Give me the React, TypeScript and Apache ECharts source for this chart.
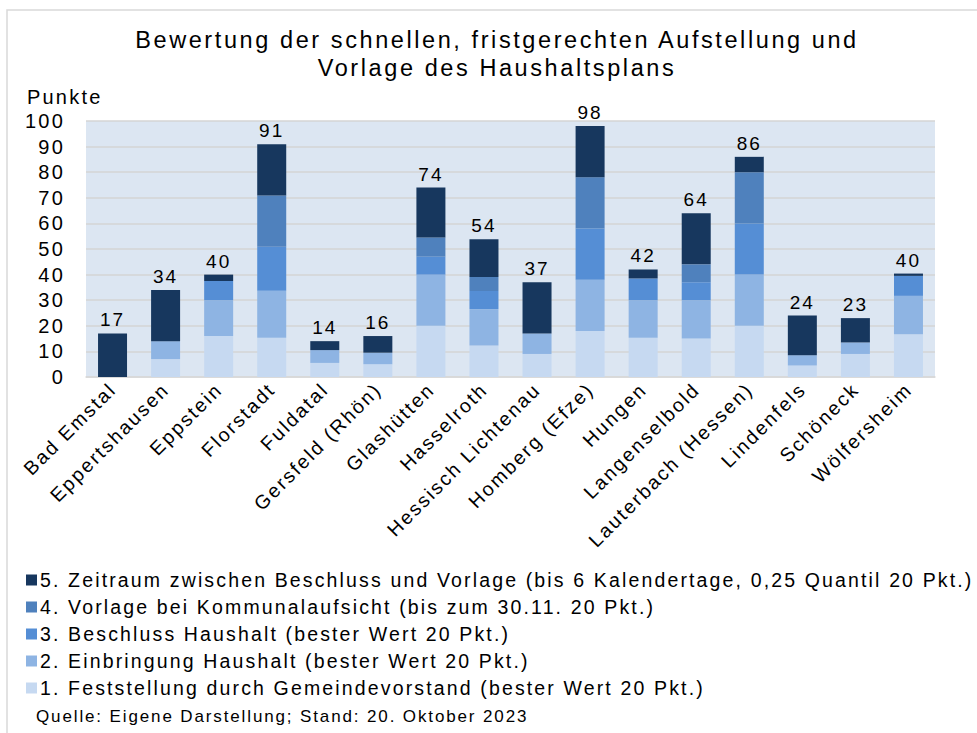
import React, { useEffect, useRef } from "react";
import * as echarts from "echarts";

const categories = [
  "Bad Emstal", "Eppertshausen", "Eppstein", "Florstadt", "Fuldatal", "Gersfeld (Rhön)",
  "Glashütten", "Hasselroth", "Hessisch Lichtenau", "Homberg (Efze)", "Hungen",
  "Langenselbold", "Lauterbach (Hessen)", "Lindenfels", "Schöneck", "Wölfersheim",
];

const seriesNames = [
  "1. Feststellung durch Gemeindevorstand (bester Wert 20 Pkt.)",
  "2. Einbringung Haushalt (bester Wert 20 Pkt.)",
  "3. Beschluss Haushalt (bester Wert 20 Pkt.)",
  "4. Vorlage bei Kommunalaufsicht (bis zum 30.11. 20 Pkt.)",
  "5. Zeitraum zwischen Beschluss und Vorlage (bis 6 Kalendertage, 0,25 Quantil 20 Pkt.)",
];

const feststellung = [0, 7, 16, 15.3, 5.5, 5, 20, 12.3, 9, 18, 15.3, 15, 20, 4.5, 9, 16.7];
const einbringung = [0, 7, 14, 18.4, 5, 4.5, 20, 14.2, 8, 20, 14.7, 15, 20, 4, 4.5, 15];
const beschluss = [0, 0, 7.5, 17.2, 0, 0, 7, 7.1, 0, 20, 8.5, 7, 20, 0, 0, 7.8];
const vorlage = [0, 0, 0, 20, 0, 0, 7.5, 5.5, 0, 20, 0, 7, 20, 0, 0, 0];
const zeitraum = [17, 20, 2.5, 20, 3.5, 6.5, 19.5, 14.7, 20, 20, 3.5, 20, 6, 15.5, 9.5, 0.9];

const totals = [17, 34, 40, 91, 14, 16, 74, 54, 37, 98, 42, 64, 86, 24, 23, 40];

const colors = ["#c6d9f1", "#8eb4e3", "#558ed5", "#4f81bd", "#17375e"];

const FONT = "'Liberation Sans', Arial, sans-serif";

export default function App() {
  const ref = useRef<HTMLDivElement>(null);

  useEffect(() => {
    if (!ref.current) return;
    const chart = echarts.init(ref.current, undefined, { renderer: "svg" });
    const values = [feststellung, einbringung, beschluss, vorlage, zeitraum];
    const series = values.map((data, i) => ({
      name: seriesNames[i],
      type: "bar",
      stack: "total",
      barWidth: 29,
      data,
      itemStyle: { color: colors[i] },
      label:
        i === 4
          ? {
              show: true,
              position: "top",
              distance: 4,
              fontSize: 19,
              color: "#000",
              fontFamily: FONT,
              formatter: (p: any) => String(totals[p.dataIndex]),
            }
          : { show: false },
    }));

    chart.setOption({
      animation: false,
      textStyle: { fontFamily: FONT },
      title: {
        text: "Bewertung der schnellen, fristgerechten Aufstellung und\nVorlage des Haushaltsplans",
        left: 497,
        top: 26,
        padding: 0,
        textAlign: "center",
        textStyle: {
          fontSize: 23.5,
          fontWeight: "normal",
          color: "#000",
          lineHeight: 28,
          fontFamily: FONT,
        },
      },
      legend: {
        orient: "vertical",
        left: 21,
        top: 565,
        icon: "rect",
        itemWidth: 11,
        itemHeight: 11,
        itemGap: 7,
        data: [...seriesNames].reverse(),
        textStyle: { fontSize: 19.5, color: "#000", fontFamily: FONT, padding: [0, 0, 0, -2] },
        selectedMode: false,
      },
      grid: {
        left: 86,
        right: 42,
        top: 121,
        bottom: 356,
        show: true,
        backgroundColor: "#dce6f2",
        borderWidth: 0,
      },
      xAxis: {
        type: "category",
        data: categories,
        axisTick: { show: false },
        axisLine: { lineStyle: { color: "#d9d9d9", width: 1.5 } },
        axisLabel: {
          interval: 0,
          rotate: 45,
          fontSize: 19.5,
          color: "#000",
          margin: 9,
          fontFamily: FONT,
        },
      },
      yAxis: {
        type: "value",
        min: 0,
        max: 100,
        interval: 10,
        axisLine: { show: false },
        axisTick: { show: false },
        splitLine: { lineStyle: { color: "#d4d4d4", width: 1.5 } },
        axisLabel: { fontSize: 20, color: "#000", margin: 21, fontFamily: FONT },
      },
      graphic: [
        {
          type: "rect",
          shape: { x: 7, y: 10, width: 1000, height: 800 },
          style: { fill: "none", stroke: "#d9d9d9", lineWidth: 1.5 },
          silent: true,
          z: -10,
        },
        {
          type: "text",
          left: 27,
          top: 87,
          style: { text: "Punkte", fontSize: 20, fill: "#000", fontFamily: FONT },
        },
        {
          type: "text",
          left: 36,
          top: 708,
          style: {
            text: "Quelle: Eigene Darstellung; Stand: 20. Oktober 2023",
            fontSize: 17,
            fill: "#000",
            fontFamily: FONT,
          },
        },
      ],
      series,
    });
    return () => chart.dispose();
  }, []);

  return (
    <div>
      <style>{`#chart-box text { letter-spacing: 0.11em; }`}</style>
      <div
        id="chart-box"
        ref={ref}
        style={{ position: "fixed", left: 0, top: 0, width: 977, height: 733, background: "#fff" }}
      />
    </div>
  );
}
